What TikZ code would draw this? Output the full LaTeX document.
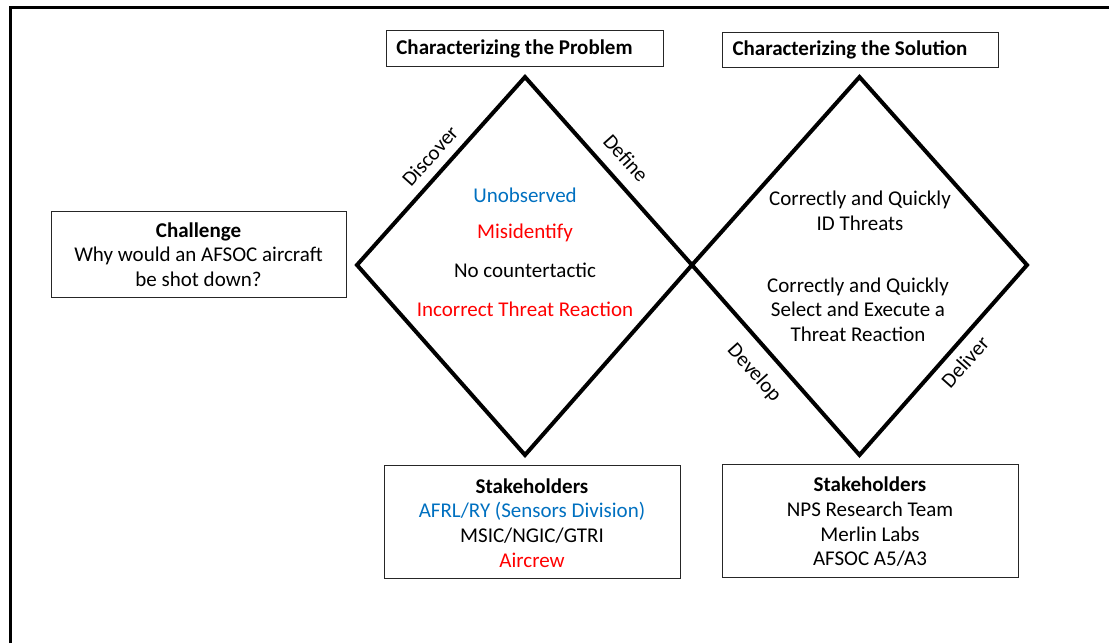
\documentclass[tikz,border=0pt]{standalone}
\usepackage{fontspec}
\setmainfont{Carlito}
\definecolor{myblue}{HTML}{0070C0}
\definecolor{myred}{HTML}{FF0000}
\tikzset{
  box/.style={draw=black!85, line width=1pt, inner sep=0pt},
  txt/.style={font=\fontsize{21}{24.7}\selectfont, align=center, inner sep=0pt},
  dia/.style={line width=4pt, line join=miter},
  edgelbl/.style={font=\fontsize{21}{24}\selectfont, inner sep=0pt}
}
\begin{document}
\begin{tikzpicture}[x=1pt,y=-1pt]
\useasboundingbox (0,0) rectangle (1109,643);
% frame (cropped)
\coordinate (fb) at (10.5,643);
\coordinate (fc) at (10.5,7);
\coordinate (fr) at (1109,7);
\draw[line width=3pt] (fb) -- (fc) -- (fr);

% header boxes
\node[box, minimum width=277pt, minimum height=36pt] (prob) at (524.5,48) {};
\node[txt, font=\fontsize{21}{24}\selectfont\bfseries] (probt) at (514.5,48.5) {Characterizing the Problem};
\node[box, minimum width=276pt, minimum height=35pt] (sol) at (860,49.5) {};
\node[txt, font=\fontsize{21}{24}\selectfont\bfseries] (solt) at (850,50) {Characterizing the Solution};

% challenge
\node[box, minimum width=295pt, minimum height=86pt] (chal) at (198.5,254) {};
\node[txt] (chalt) at (198.5,254.5) {\textbf{Challenge}\\Why would an AFSOC aircraft\\be shot down?};

% diamonds
\coordinate (lL) at (357,265);
\coordinate (lT) at (525,77);
\coordinate (mid) at (692,265);
\coordinate (lB) at (525,455);
\coordinate (rT) at (859.5,77);
\coordinate (rR) at (1027,265);
\coordinate (rB) at (859.5,455);
\draw[dia] (lL) -- (lT) -- (mid) -- (lB) -- cycle;
\draw[dia] (mid) -- (rT) -- (rR) -- (rB) -- cycle;

% edge labels
\node[edgelbl, rotate=48.2] (disc) at (430,156) {Discover};
\node[edgelbl, rotate=-48.2] (defn) at (626,158) {Define};
\node[edgelbl, rotate=-48.2] (dev) at (754,373) {Develop};
\node[edgelbl, rotate=48.2] (deliv) at (965,362) {Deliver};

% left diamond content
\node[txt, text=myblue] (u) at (525,195) {Unobserved};
\node[txt, text=myred] (m) at (525,233) {Misidentify};
\node[txt] (n) at (525,270.5) {No countertactic};
\node[txt, text=myred] (i) at (525,309) {Incorrect Threat Reaction};

% right diamond content
\node[txt] (c1) at (860,210.5) {Correctly and Quickly\\ID Threats};
\node[txt] (c2) at (858,309.5) {Correctly and Quickly\\Select and Execute a\\Threat Reaction};

% stakeholders
\node[box, minimum width=296pt, minimum height=113pt] (st1) at (532,521.5) {};
\node[txt] (st1t) at (532,523) {\textbf{Stakeholders}\\\textcolor{myblue}{AFRL/RY (Sensors Division)}\\MSIC/NGIC/GTRI\\\textcolor{myred}{Aircrew}};
\node[box, minimum width=296pt, minimum height=113pt] (st2) at (870,520.5) {};
\node[txt] (st2t) at (870,522) {\textbf{Stakeholders}\\NPS Research Team\\Merlin Labs\\AFSOC A5/A3};
\end{tikzpicture}
\end{document}
